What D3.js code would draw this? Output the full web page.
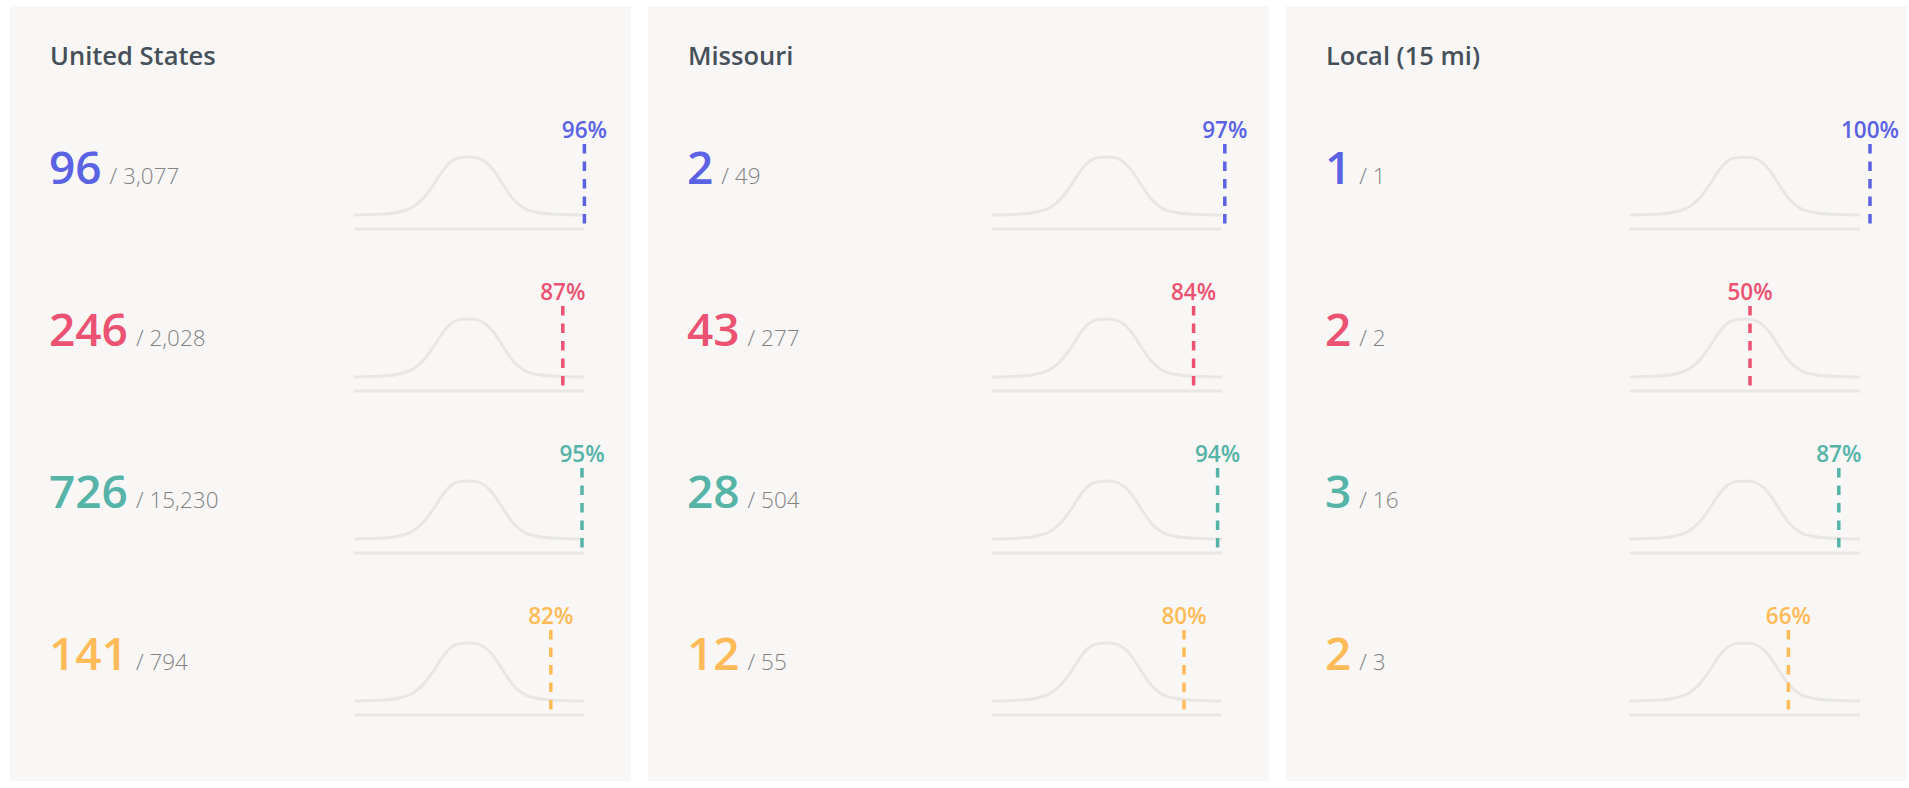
<!DOCTYPE html>
<html>
<head>
<meta charset="utf-8">
<script src="https://cdn.jsdelivr.net/npm/d3@7"></script>
<style>
  body { margin: 0; background: #fff; font-family: "Open Sans", sans-serif; overflow: hidden; }
</style>
</head>
<body>
<div id="my_panels"></div>
<script>
// data
const regions = ["United States", "Missouri", "Local (15 mi)"];
const rowColors = ["#5b62e4", "#ec5272", "#55b3a8", "#ffbb57"];
const counts = [[96, 246, 726, 141], [2, 43, 28, 12], [1, 2, 3, 2]];
const totals = [[3077, 2028, 15230, 794], [49, 277, 504, 55], [1, 2, 16, 3]];
const percentiles = [[96, 87, 95, 82], [97, 84, 94, 80], [100, 50, 87, 66]];

// shape of the grey bell curve (position along the sparkline, relative height)
const curveX = [0, 0.128, 0.2, 0.258, 0.301, 0.345, 0.388, 0.425, 0.461, 0.497, 0.533, 0.570, 0.606, 0.649, 0.693, 0.736, 0.794, 0.881, 0.99, 1];
const curveY = [0, 0.017, 0.057, 0.144, 0.287, 0.517, 0.776, 0.931, 0.989, 1, 0.989, 0.92, 0.776, 0.517, 0.27, 0.126, 0.046, 0.011, 0, 0];

// layout
const W = 1909, H = 788;
const panel = {x0: 10, y0: 6, width: 621, height: 775, step: 638};
const rowTop = 178, rowStep = 162;
const spark = {left: 344, width: 230, pctWidth: 240};

const svg = d3.select("#my_panels")
    .append("svg")
    .attr("width", W)
    .attr("height", H);

const fmt = d3.format(",");

// scales for the small chart in each row (row-local coordinates, 0 = number baseline)
const xCurve = d3.scaleLinear().domain([0, 1]).range([spark.left, spark.left + spark.width]);
const yCurve = d3.scaleLinear().domain([0, 1]).range([31, -27]);
const xPct = d3.scaleLinear().domain([0, 100]).range([spark.left, spark.left + spark.pctWidth]);
const baseY = 45;

const line = d3.line()
    .x(d => xCurve(d[0]))
    .y(d => yCurve(d[1]))
    .curve(d3.curveMonotoneX);
const curvePts = curveX.map((x, i) => [x, curveY[i]]);

regions.forEach(function(region, p) {
    const g = svg.append("g")
        .attr("transform", `translate(${panel.x0 + p * panel.step},${panel.y0})`);

    g.append("rect")
        .attr("width", panel.width)
        .attr("height", panel.height)
        .attr("fill", "#f8f7f5");

    // panel title
    g.append("text")
        .attr("x", 40)
        .attr("y", 59)
        .attr("fill", "#46505a")
        .style("font-size", "25.5px")
        .style("font-weight", 600)
        .text(region);

    counts[p].forEach(function(c, r) {
        const row = g.append("g")
            .attr("transform", `translate(0,${rowTop + r * rowStep})`);

        const big = row.append("text")
            .attr("x", 39)
            .attr("y", 0)
            .attr("fill", rowColors[r])
            .style("font-size", "46px")
            .style("font-weight", 600)
            .text(c);
        const bigW = big.node().getComputedTextLength();

        row.append("text")
            .attr("x", 39 + bigW + 8)
            .attr("y", 0)
            .attr("fill", "#828282")
            .style("font-size", "22.5px")
            .style("font-weight", 300)
            .text("/ " + fmt(totals[p][r]));

        // sparkline baseline
        row.append("line")
            .attr("x1", xCurve(0))
            .attr("x2", xCurve(1))
            .attr("y1", baseY)
            .attr("y2", baseY)
            .attr("stroke", "#e8e7e5")
            .attr("stroke-width", 3);

        // bell curve
        row.append("path")
            .datum(curvePts)
            .attr("d", line)
            .attr("fill", "none")
            .attr("stroke", "#e8e7e5")
            .attr("stroke-width", 3);

        // percentile marker
        const px = xPct(percentiles[p][r]);
        row.append("line")
            .attr("x1", px)
            .attr("x2", px)
            .attr("y1", -40)
            .attr("y2", baseY + 1)
            .attr("stroke", rowColors[r])
            .attr("stroke-width", 3.5)
            .attr("stroke-dasharray", "9.5,8");

        row.append("text")
            .attr("x", px)
            .attr("y", -46)
            .attr("text-anchor", "middle")
            .attr("fill", rowColors[r])
            .style("font-size", "22.5px")
            .style("font-weight", 600)
            .text(percentiles[p][r] + "%");
    });
});
</script>
</body>
</html>
